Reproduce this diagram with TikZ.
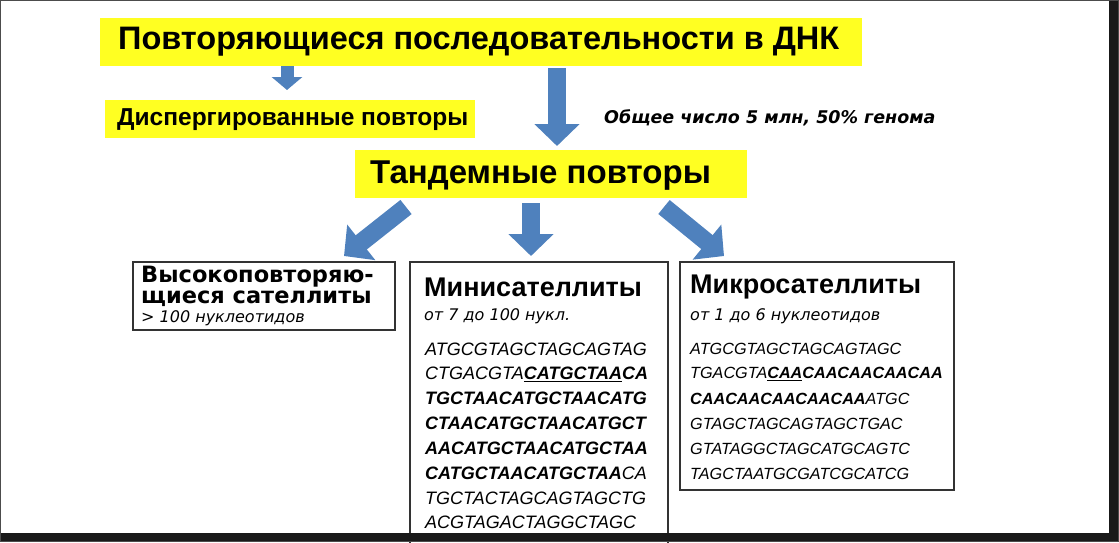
\documentclass[tikz,border=0pt]{standalone}
\usepackage{fontspec}
\setmainfont{Liberation Sans}
\newfontfamily\wide{DejaVu Sans}
\usetikzlibrary{arrows.meta}
\definecolor{ylw}{HTML}{FFFF22}
\definecolor{blu}{HTML}{4F81BD}
\tikzset{
  barrow/.style={draw=blu, line width=18pt, -{Triangle[width=44pt,length=22pt]}},
  txt/.style={anchor=west, inner sep=0pt},
  seq/.style={anchor=west, inner sep=0pt, font=\fontsize{18}{18}\selectfont\itshape},
  cseq/.style={seq, font=\fontsize{16.2}{16}\selectfont\itshape},
  wbox/.style={draw=black!80, line width=1.2pt, fill=white},
}
\begin{document}
\begin{tikzpicture}[x=1pt,y=-1pt]
\useasboundingbox (0,0) rectangle (1119,542);
\fill[white] (0,0) rectangle (1119,542);
% yellow boxes
\fill[ylw] (100,18) rectangle (862,66);
\node[txt,font=\fontsize{32.5}{32}\selectfont\bfseries] (title) at (118,42) {Повторяющиеся последовательности в ДНК};
\fill[ylw] (105,100) rectangle (475,138);
\node[txt,font=\fontsize{24.5}{24}\selectfont\bfseries] (disp) at (117,120) {Диспергированные повторы};
\fill[ylw] (355,150) rectangle (747,198);
\node[txt,font=\fontsize{33}{33}\selectfont\bfseries] (tand) at (370,176) {Тандемные повторы};
\node[txt,font=\fontsize{17.5}{17}\selectfont\wide\bfseries\itshape] (note) at (604,118) {Общее число 5 млн, 50\% генома};
% arrows
\coordinate (a1s) at (287,66); \coordinate (a1e) at (287,90);
\coordinate (a2s) at (557,68); \coordinate (a2e) at (557,146);
\coordinate (a3s) at (406,207); \coordinate (a3e) at (344,256);
\coordinate (a4s) at (531,203); \coordinate (a4e) at (531,256);
\coordinate (a5s) at (664,207); \coordinate (a5e) at (724,256);
\draw[barrow,line width=13pt,-{Triangle[width=30pt,length=13pt]}] (a1s) -- (a1e);
\foreach \s/\e in {a2s/a2e,a3s/a3e,a4s/a4e,a5s/a5e} \draw[barrow] (\s) -- (\e);
% boxes
\draw[wbox] (133,262) rectangle (395,330);
\node[txt,font=\fontsize{22.5}{22}\selectfont\wide\bfseries] (hs1) at (141,277) {Высокоповторяю-};
\node[txt,font=\fontsize{22.5}{22}\selectfont\wide\bfseries] (hs2) at (141,299) {щиеся сателлиты};
\node[txt,font=\fontsize{16}{16}\selectfont\wide\itshape] (hs3) at (141,318) {> 100 нуклеотидов};
\draw[wbox] (410,262) rectangle (668,545);
\node[txt,font=\fontsize{27}{27}\selectfont\bfseries] (mini) at (424,287) {Минисателлиты};
\node[txt,font=\fontsize{16}{16}\selectfont\wide\itshape] (mini2) at (424,316) {от 7 до 100 нукл.};
\node[seq] (m1) at (425,349) {ATGCGTAGCTAGCAGTAG};
\node[seq] (m2) at (425,374) {CTGACGTA\underline{\textbf{CATGCTAA}}\textbf{CA}};
\node[seq] (m3) at (425,398) {\textbf{TGCTAACATGCTAACATG}};
\node[seq] (m4) at (425,423) {\textbf{CTAACATGCTAACATGCT}};
\node[seq] (m5) at (425,448) {\textbf{AACATGCTAACATGCTAA}};
\node[seq] (m6) at (425,473) {\textbf{CATGCTAACATGCTAA}CA};
\node[seq] (m7) at (425,498) {TGCTACTAGCAGTAGCTG};
\node[seq] (m8) at (425,522) {ACGTAGACTAGGCTAGC};
\draw[wbox] (680,262) rectangle (954,490);
\node[txt,font=\fontsize{27}{27}\selectfont\bfseries] (micro) at (690,287) {Микросателлиты};
\node[txt,font=\fontsize{16}{16}\selectfont\wide\itshape] (micro2) at (690,316) {от 1 до 6 нуклеотидов};
\node[cseq] (c1) at (690,349) {ATGCGTAGCTAGCAGTAGC};
\node[cseq] (c2) at (690,374) {TGACGTA\underline{\textbf{CAA}}\textbf{CAACAACAACAA}};
\node[cseq] (c3) at (690,399) {\textbf{CAACAACAACAACAA}ATGC};
\node[cseq] (c4) at (690,424) {GTAGCTAGCAGTAGCTGAC};
\node[cseq] (c5) at (690,449) {GTATAGGCTAGCATGCAGTC};
\node[cseq] (c6) at (690,474) {TAGCTAATGCGATCGCATCG};
% frame
\fill[black!90] (1109,0) rectangle (1119,542);
\fill[black!90] (0,533) rectangle (1119,542);
\draw[black!70,line width=1pt] (0.5,0.5) rectangle (1118.5,541.5);
\end{tikzpicture}
\end{document}
